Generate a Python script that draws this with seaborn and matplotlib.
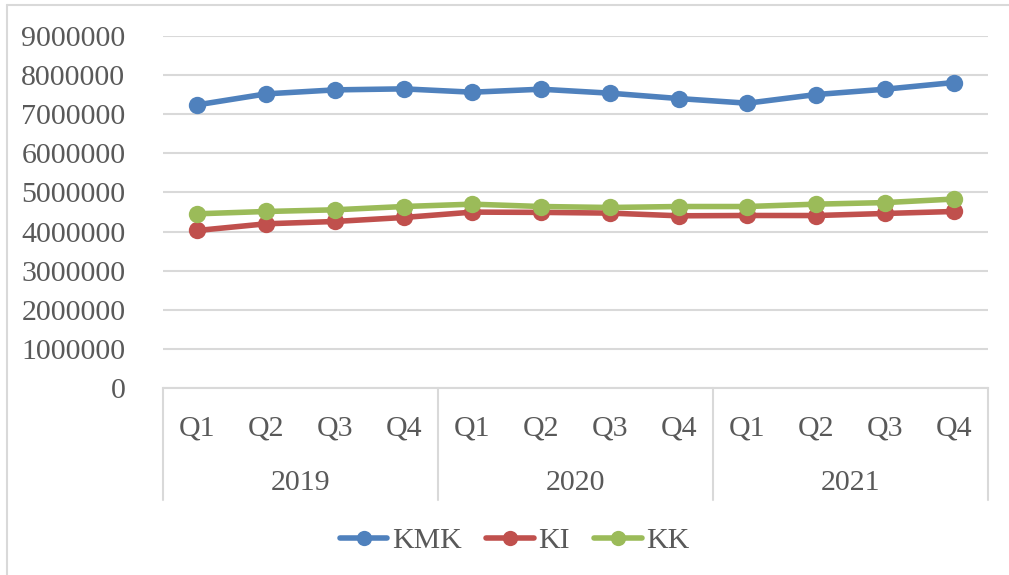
import matplotlib
matplotlib.use("Agg")
import matplotlib.pyplot as plt
import matplotlib.transforms as mtransforms
from matplotlib.lines import Line2D
import seaborn as sns
import pandas as pd
import numpy as np

quarters = ["Q1", "Q2", "Q3", "Q4"] * 3
years = ["2019", "2020", "2021"]
series_names = ["KMK", "KI", "KK"]
kmk = [7235000, 7515000, 7617000, 7643000, 7558000, 7634000,
       7533000, 7396000, 7277000, 7498000, 7634000, 7804000]
ki = [4028000, 4199000, 4258000, 4360000, 4497000, 4490000,
      4472000, 4403000, 4411000, 4410000, 4462000, 4513000]
kk = [4454000, 4513000, 4556000, 4640000, 4700000, 4640000,
      4615000, 4640000, 4640000, 4700000, 4740000, 4830000]
colors = ["#4f81bd", "#c0504d", "#9bbb59"]

sns.set_theme(style="white")
plt.rcParams["font.family"] = ["Liberation Serif", "DejaVu Serif"]
text_color = "#595959"
grid_color = "#d9d9d9"
fs = 21.5

idx = list(range(len(quarters)))
df = pd.DataFrame({
    "idx": idx * 3,
    "value": kmk + ki + kk,
    "series": [series_names[0]] * 12 + [series_names[1]] * 12 + [series_names[2]] * 12,
})

fig = plt.figure(figsize=(10.09, 5.75), dpi=100)
ax = fig.add_axes([163 / 1009, 1 - 388.3 / 575, (988 - 163) / 1009, (388.3 - 35.7) / 575])

sns.lineplot(data=df, x="idx", y="value", hue="series", palette=colors,
             hue_order=series_names, marker="o", markersize=12.5,
             markeredgewidth=0, linewidth=4.0, ax=ax, legend=False, sort=False)

ax.set_xlim(-0.5, 11.5)
ax.set_ylim(0, 9000000)
yt = np.arange(0, 9000001, 1000000)
ax.set_yticks(yt)
ax.set_yticklabels([str(int(v)) for v in yt], fontsize=fs, color=text_color)
ax.yaxis.grid(True, color=grid_color, linewidth=1.5)
ax.set_axisbelow(True)
for s in ["top", "right", "left"]:
    ax.spines[s].set_visible(False)
ax.spines["bottom"].set_color(grid_color)
ax.spines["bottom"].set_linewidth(1.5)
ax.tick_params(axis="y", length=0, pad=27)
ax.tick_params(axis="x", length=0)
ax.set_xticks(idx)
ax.set_xticklabels([])
ax.set_xlabel("")
ax.set_ylabel("")

trans = mtransforms.blended_transform_factory(ax.transData, ax.transAxes)
for i, q in enumerate(quarters):
    ax.text(i, -0.1126, q, transform=trans, ha="center", va="center",
            fontsize=fs, color=text_color)
for j, y in enumerate(years):
    ax.text(4 * j + 1.5, -0.2686, y, transform=trans, ha="center", va="center",
            fontsize=fs, color=text_color)
for xb in [-0.5, 3.5, 7.5, 11.5]:
    ax.plot([xb, xb], [0, -0.317], transform=trans, color=grid_color,
            linewidth=1.5, clip_on=False)

handles = [Line2D([0], [0], color=c, linewidth=4.0, marker="o", markersize=11,
                  markeredgewidth=0) for c in colors]
leg = fig.legend(handles, series_names, loc="center", bbox_to_anchor=(0.51, 1 - 541 / 575),
                 ncol=3, frameon=False, fontsize=fs, handlelength=1.6,
                 handletextpad=0.16, columnspacing=0.8)
for t in leg.get_texts():
    t.set_color(text_color)

# outer chart border (top and left visible)
fig.add_artist(Line2D([7 / 1009, 1.01], [1 - 5 / 575, 1 - 5 / 575],
                      transform=fig.transFigure, color=grid_color, linewidth=1.5))
fig.add_artist(Line2D([7 / 1009, 7 / 1009], [1 - 5 / 575, -0.01],
                      transform=fig.transFigure, color=grid_color, linewidth=1.5))

fig.savefig("out.png", dpi=100)
